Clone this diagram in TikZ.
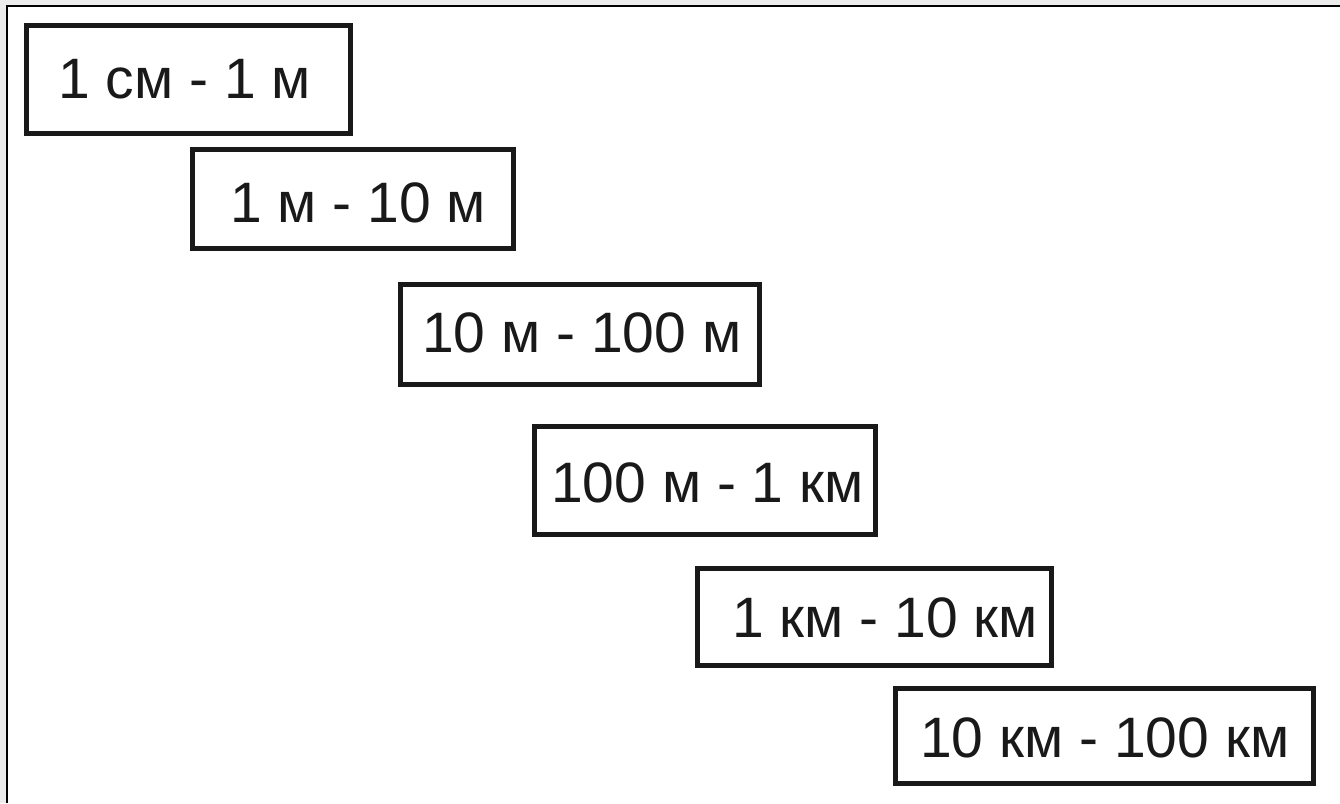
\documentclass[tikz,border=0pt]{standalone}
\usepackage{fontspec}
\setmainfont{Liberation Sans}
\begin{document}
\begin{tikzpicture}[x=1pt,y=-1pt,
  rangebox/.style={draw=black!90,line width=5pt,fill=white,inner sep=0pt,outer sep=0pt},
  rangetext/.style={anchor=base west,inner sep=0pt,font=\fontsize{57}{60}\selectfont,text=black!90}]
\fill[gray!15] (0,0) rectangle (1340,803);
\useasboundingbox (0,0) rectangle (1340,803);
\fill[white] (7,6) rectangle (1340,803);
\draw[line width=2.5pt] (7,803) -- (7,6) -- (1340,6);
% boxes
\node[rangebox,minimum width=324pt,minimum height=108pt] (b1) at (188.5,79.5) {};
\node[rangebox,minimum width=321pt,minimum height=99pt] (b2) at (353,199) {};
\node[rangebox,minimum width=359pt,minimum height=100pt] (b3) at (580,334.5) {};
\node[rangebox,minimum width=341pt,minimum height=108pt] (b4) at (705,480.5) {};
\node[rangebox,minimum width=354pt,minimum height=97pt] (b5) at (874.5,617) {};
\node[rangebox,minimum width=418pt,minimum height=95pt] (b6) at (1104.5,736) {};
% texts
\node[rangetext] (t1) at (58,98) {1 см - 1 м};
\node[rangetext] (t2) at (230,222) {1 м - 10 м};
\node[rangetext] (t3) at (422,352) {10 м - 100 м};
\node[rangetext] (t4) at (551,502) {100 м - 1 км};
\node[rangetext] (t5) at (732,637) {1 км - 10 км};
\node[rangetext] (t6) at (920,757) {10 км - 100 км};
\end{tikzpicture}
\end{document}
